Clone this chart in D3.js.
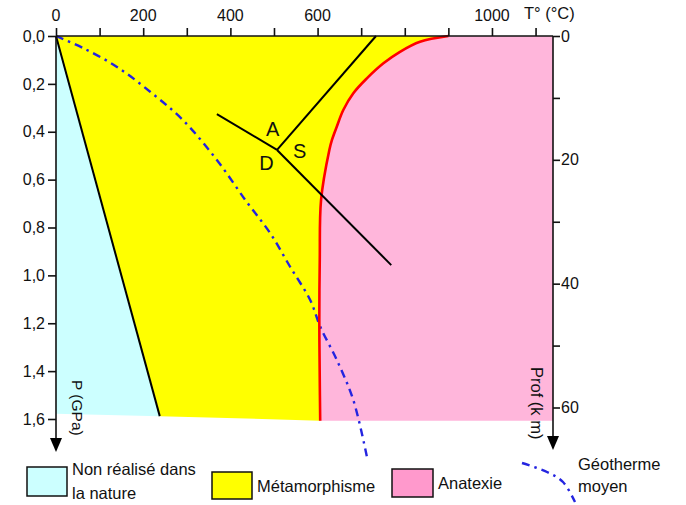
<!DOCTYPE html>
<html><head><meta charset="utf-8">
<script src="https://cdn.jsdelivr.net/npm/d3@7"></script>
<style>
body{margin:0;background:#fff}
svg text{font-family:"Liberation Sans",Arial,sans-serif;fill:#111}
</style>
</head><body><svg id="c" width="686" height="505"></svg>
<script>
// ---- data ----
const tempTicks = [0,100,200,300,400,500,600,700,800,900,1000,1100];
const tempLabels = [0,200,400,600,1000];
const pressTicks = [0,0.2,0.4,0.6,0.8,1.0,1.2,1.4,1.6];
const depthTicks = [0,10,20,30,40,50,60];
const depthLabels = [0,20,40,60];
// solidus (red curve) : T (°C), P (GPa)
const solidusT = [900,835,789,751,713,682,659,644,633,627,608,605,604,605,606];
const solidusP = [0,0.024,0.066,0.114,0.177,0.239,0.309,0.379,0.434,0.476,0.685,0.936,1.186,1.437,1.607];
// limit "non réalisé dans la nature"
const limitT = [0,238];
const limitP = [0,1.588];
// lower edge of the diagram
const bottomT = [1140,606,238,0];
const bottomP = [1.607,1.607,1.588,1.578];
// mean geotherm
const geoT = [0,63,139,216,291,369,437,491,537,583,606,644,682,713];
const geoP = [0,0.051,0.128,0.233,0.351,0.518,0.692,0.823,0.964,1.103,1.214,1.353,1.521,1.757];
// Al2SiO5 triple point and reaction lines
const tripleT = 507, tripleP = 0.476;
const reactEndT = [369,734,769];   // A/D, A/S, S/D
const reactEndP = [0.326,0,0.957];
const phaseLabels = ["A","S","D"];
const phaseT = [497,559,483];
const phaseP = [0.39,0.48,0.53];
const legendItems = ["Non réalisé dans|la nature","Métamorphisme","Anatexie"];
const legendColors = ["#ccffff","#ffff00","#ff99cc"];

const TMAX = 1140, PMAX = 1.6, DMAX = 60;
const svg = d3.select("#c");
const x = d3.scaleLinear([0,TMAX],[56,553]);
const y = d3.scaleLinear([0,PMAX],[36,419]);
const yd = d3.scaleLinear([0,DMAX],[36,407.5]);

const pts = (T,P)=>T.map((t,i)=>[x(t),y(P[i])]);
const line = d3.line();

// regions
const solid = pts(solidusT,solidusP);
const lim = pts(limitT,limitP);
svg.append("path").attr("fill","#ccffff")
  .attr("d", line([ ...lim, [x(bottomT[2]),y(bottomP[2])], [x(0),y(bottomP[3])] ])+"Z");
svg.append("path").attr("fill","#ffff00")
  .attr("d", line([ [x(0),y(0)], ...solid, [x(bottomT[2]),y(bottomP[2])], [x(limitT[1]),y(limitP[1])] ])+"Z");
svg.append("path").attr("fill","#ffb6db")
  .attr("d", line([ [x(TMAX),y(0)], [x(TMAX),y(bottomP[0])], ...solid.slice().reverse() ])+"Z");

// geotherm
svg.append("path").attr("fill","none").attr("stroke","#2424e0").attr("stroke-width",2.4)
  .attr("stroke-dasharray","8,5,2.5,5")
  .attr("d", d3.line().curve(d3.curveCatmullRom)(pts(geoT,geoP)));

// limit line
svg.append("path").attr("fill","none").attr("stroke","#000").attr("stroke-width",2)
  .attr("d", line(lim));
// solidus
svg.append("path").attr("fill","none").attr("stroke","#ff0000").attr("stroke-width",2.6)
  .attr("d", d3.line().curve(d3.curveCatmullRom)(solid));
// reaction lines
reactEndT.forEach((t,i)=>{
  svg.append("line").attr("stroke","#000").attr("stroke-width",2)
    .attr("x1",x(tripleT)).attr("y1",y(tripleP)).attr("x2",x(t)).attr("y2",y(reactEndP[i]));
});
phaseLabels.forEach((l,i)=>{
  svg.append("text").attr("x",x(phaseT[i])).attr("y",y(phaseP[i])).attr("text-anchor","middle")
    .attr("dominant-baseline","central").style("font-size","20px").text(l);
});

// axes
const fs = "16px";
const gTop = svg.append("g").attr("transform","translate(0,36)")
  .call(d3.axisTop(x).tickValues(tempTicks).tickSize(8).tickFormat(""));
gTop.select(".domain").attr("d",`M${x(0)},0H${x(TMAX)}`);
gTop.selectAll("line,path").attr("stroke","#111").attr("stroke-width",1.6);
svg.selectAll(".tl").data(tempLabels).join("text").attr("class","tl")
  .attr("x",d=>x(d)).attr("y",21).attr("text-anchor","middle").style("font-size",fs).text(d=>d);
svg.append("text").attr("x",524).attr("y",19).style("font-size","16.5px").text("T° (°C)");

const gLeft = svg.append("g").attr("transform",`translate(${x(0)},0)`)
  .call(d3.axisLeft(y).tickValues(pressTicks).tickSize(8).tickPadding(3)
    .tickFormat(d=>d3.format(".1f")(d).replace(".",",")));
gLeft.select(".domain").attr("d","M0,36V444");
gLeft.selectAll("line,path").attr("stroke","#111").attr("stroke-width",1.6);
gLeft.selectAll("text").style("font-size",fs).attr("fill","#111");
gLeft.append("path").attr("d","M-6,438L6,438L0,452Z").attr("fill","#000");
svg.append("text").attr("transform",`translate(72,380) rotate(90)`).style("font-size","15.5px").text("P (GPa)");

const gRight = svg.append("g").attr("transform",`translate(${x(TMAX)},0)`)
  .call(d3.axisRight(yd).tickValues(depthTicks).tickSize(7).tickPadding(1)
    .tickFormat(d=>depthLabels.includes(d)?d:""));
gRight.select(".domain").attr("d","M0,36V444");
gRight.selectAll("line,path").attr("stroke","#111").attr("stroke-width",1.6);
gRight.selectAll("text").style("font-size",fs).attr("fill","#111");
gRight.append("path").attr("d","M-6,436L6,436L0,450Z").attr("fill","#000");
svg.append("text").attr("transform",`translate(531,367) rotate(90)`).style("font-size","16.5px").text("Prof (k m)");

// legend
const lg = svg.append("g");
const boxes = [[27,467,40,29],[212,472,40,27],[392,469,41,28]];
legendItems.forEach((t,i)=>{
  const b = boxes[i];
  lg.append("rect").attr("x",b[0]).attr("y",b[1]).attr("width",b[2]).attr("height",b[3])
    .attr("fill",legendColors[i]).attr("stroke","#111").attr("stroke-width",1.5);
  const parts = t.split("|");
  const tx = lg.append("text").attr("x",b[0]+b[2]+5).style("font-size","16.5px");
  if(parts.length===2){
    tx.attr("y",475);
    tx.append("tspan").attr("x",b[0]+b[2]+5).text(parts[0]);
    tx.append("tspan").attr("x",b[0]+b[2]+5).attr("dy",24).text(parts[1]);
  } else {
    tx.attr("y",b[1]+b[3]/2).attr("dominant-baseline","central").text(t);
  }
});
lg.append("path").attr("fill","none").attr("stroke","#2424e0").attr("stroke-width",2.4)
  .attr("stroke-dasharray","8,5,2.5,5")
  .attr("d", d3.line().curve(d3.curveCatmullRom)([[522,463],[547,472],[563,482],[575,502]]));
lg.append("text").attr("x",578).attr("y",470).style("font-size","16.5px").text("Géotherme");
lg.append("text").attr("x",578).attr("y",492).style("font-size","16.5px").text("moyen");
</script></body></html>
